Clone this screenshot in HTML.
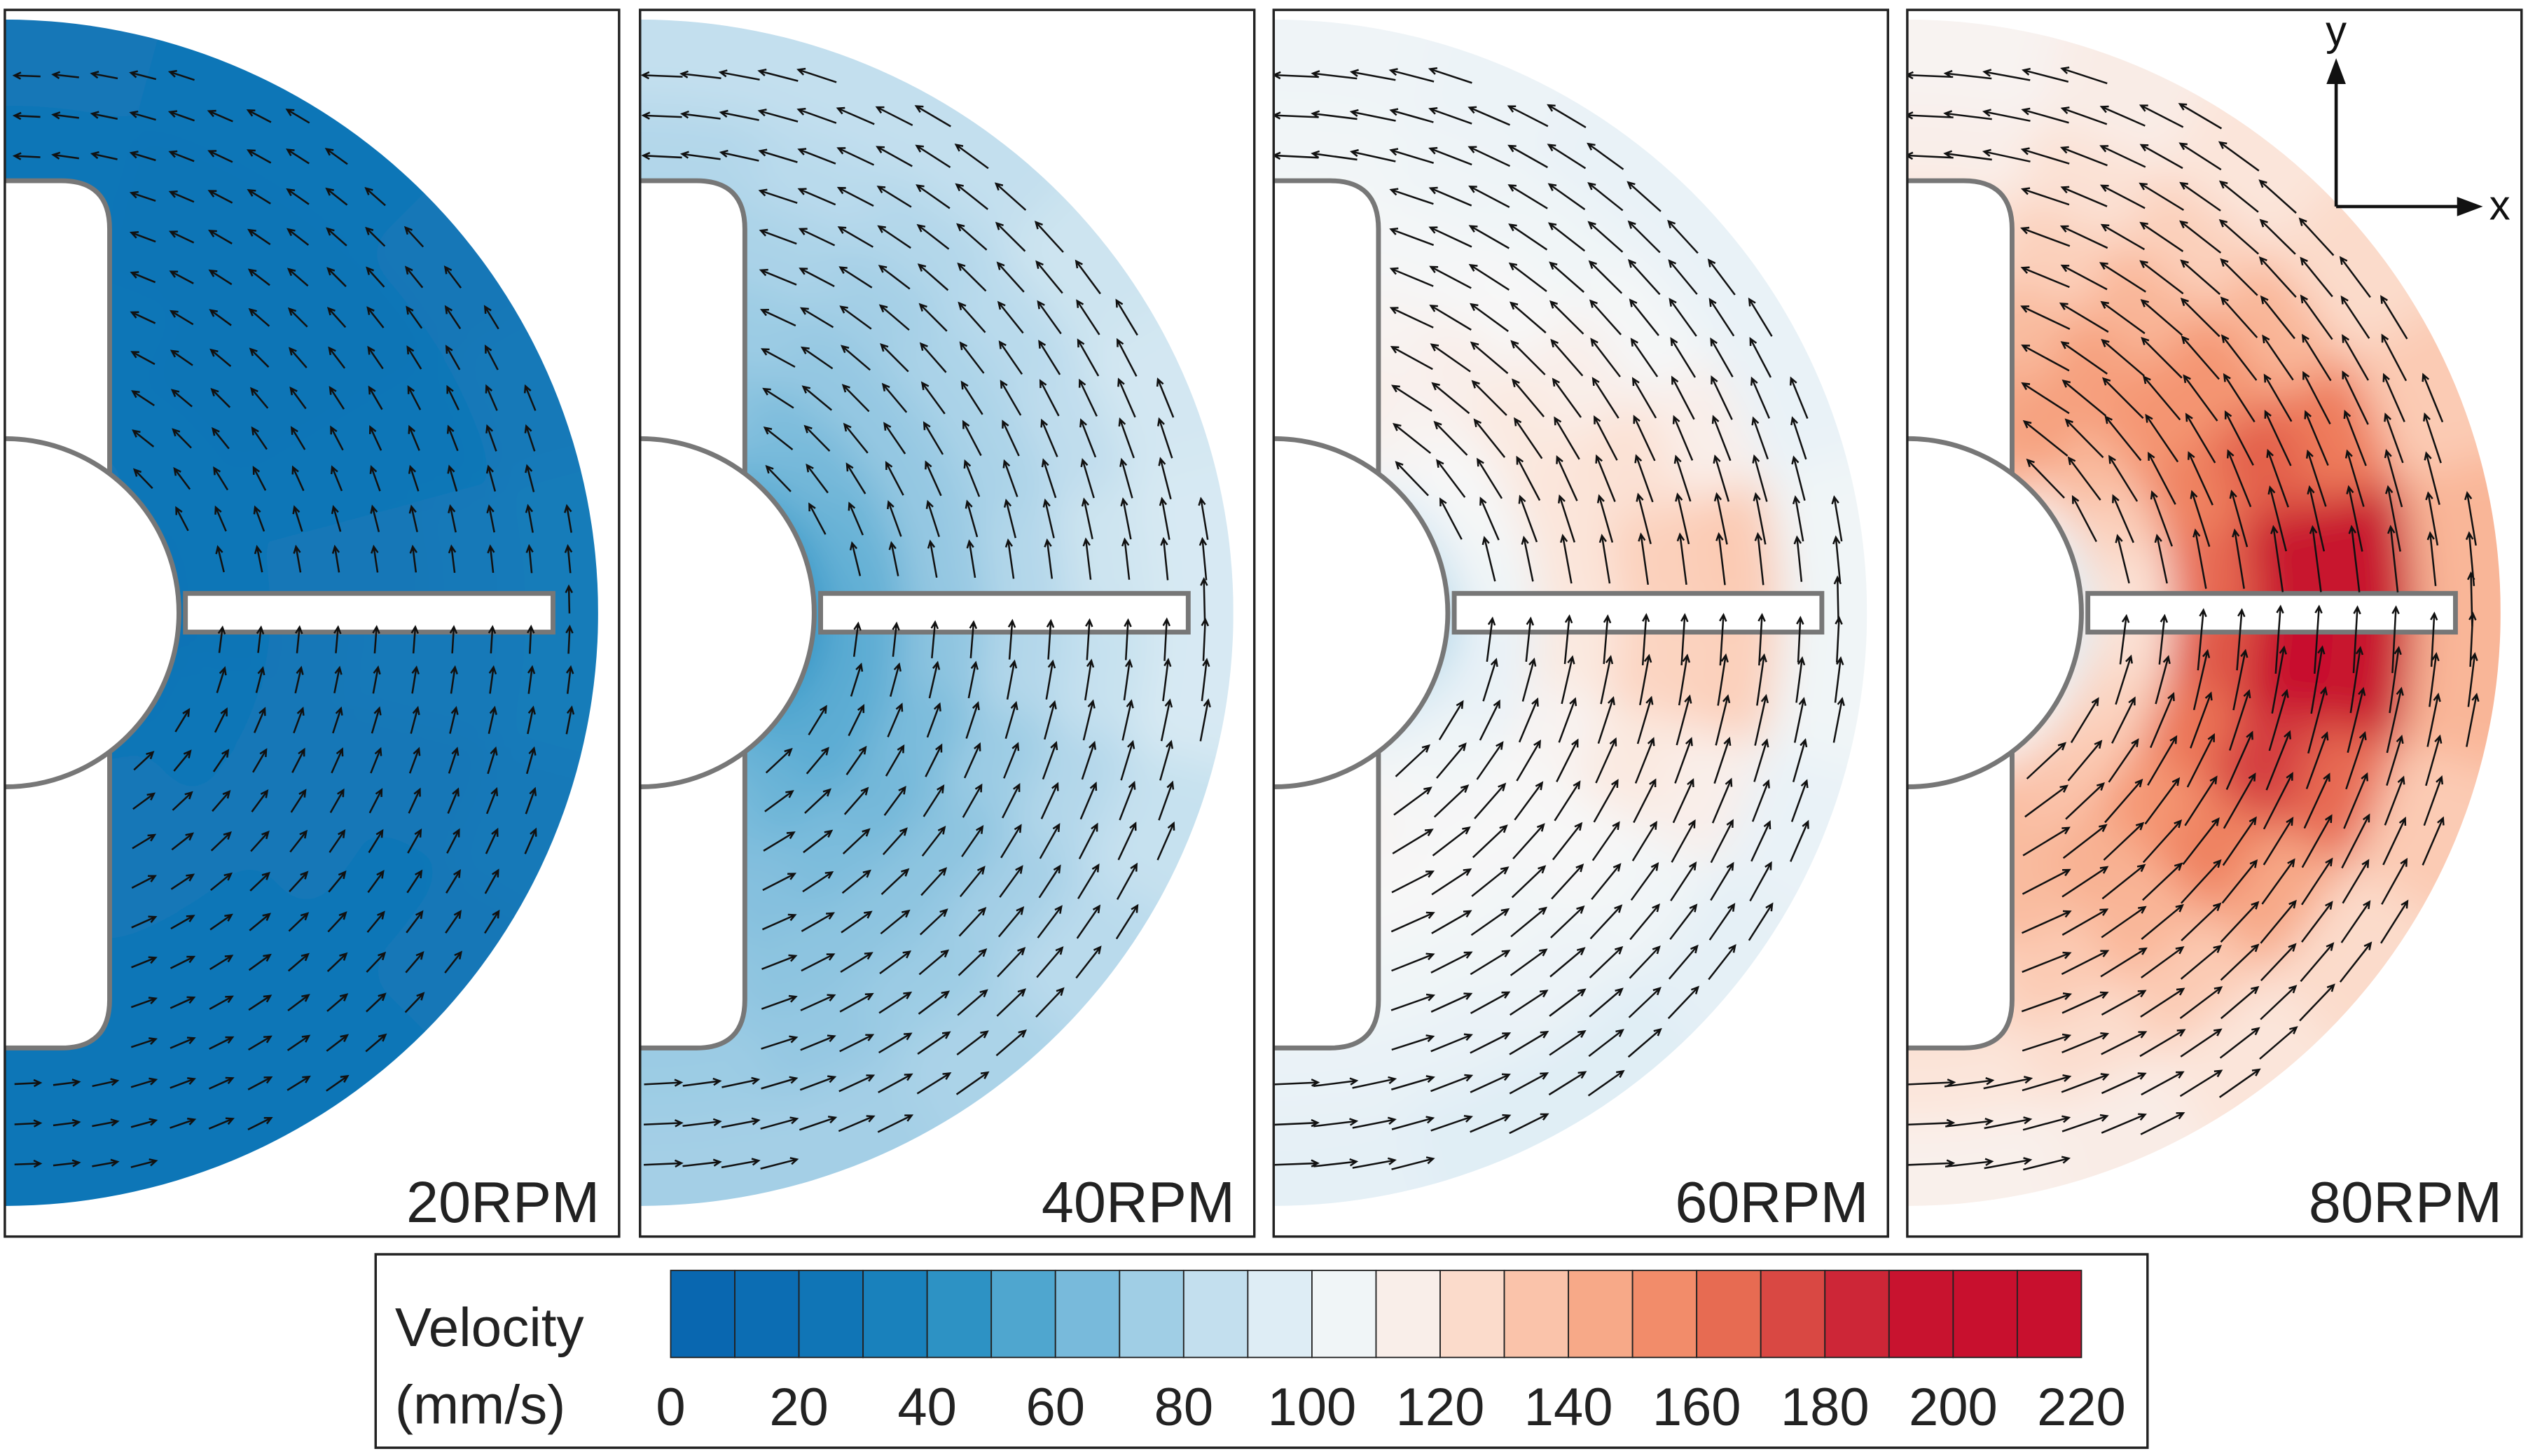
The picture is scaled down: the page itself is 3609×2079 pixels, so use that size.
<!DOCTYPE html>
<html><head><meta charset="utf-8"><style>
html,body{margin:0;padding:0;background:#fff}
svg{display:block;font-family:"Liberation Sans",sans-serif}
</style></head><body>
<svg id="fig" width="3609" height="2079" viewBox="0 0 1568 903" xmlns="http://www.w3.org/2000/svg">
<defs><filter id="bl" x="-20%" y="-10%" width="140%" height="120%"><feGaussianBlur stdDeviation="13"/></filter></defs>
<g id="panels"></g>
<g id="cbar">
<rect x="233" y="778" width="1099" height="120" fill="#fff" stroke="#222" stroke-width="1.5"/>
<text x="245" y="835" font-size="34" fill="#222">Velocity</text>
<text x="245" y="883" font-size="34" fill="#222">(mm/s)</text>
</g>
</svg>
<script>
const panelLabels=["20RPM","40RPM","60RPM","80RPM"];
const tickLabels=[0,20,40,60,80,100,120,140,160,180,200,220];
const speedP1=[[28,28,27,27,27,28],[28,27,27,26,26,27],[28,27,26,26,26,27],[27,27,26,26,26,28],[25,27,27,27,27,30],[24,27,28,28,30,32],[22,26,28,30,30,32],[24,27,28,28,28,30],[25,27,28,28,27,28],[27,28,28,27,27,27],[28,28,28,27,27,27],[28,28,27,27,27,27]];
const speedP2=[[70,72,75,78,80,85],[68,70,74,78,82,85],[60,66,72,76,80,85],[55,64,72,78,82,88],[50,62,72,78,84,90],[48,60,72,80,88,92],[45,58,70,80,86,92],[50,58,66,74,80,86],[55,58,64,70,76,82],[60,62,66,70,74,78],[66,66,68,70,72,76],[70,70,72,72,74,76]];
const speedP3=[[110,112,110,108,106,104],[112,115,112,108,104,102],[105,112,115,110,105,100],[95,110,118,115,108,100],[90,108,120,122,115,100],[85,105,120,130,132,105],[80,100,118,128,130,105],[88,100,112,118,115,100],[95,105,110,110,106,98],[100,108,110,106,102,96],[108,112,110,105,100,96],[112,112,110,105,100,98]];
const speedP4=[[135,135,128,122,115,112],[150,145,138,130,122,116],[138,148,148,140,130,120],[115,138,152,152,140,125],[100,130,158,168,160,132],[95,122,165,192,192,140],[95,122,170,198,192,140],[100,128,162,178,165,132],[105,132,152,158,145,125],[112,135,142,140,132,120],[125,138,138,132,124,116],[135,138,134,126,120,114]];
const speeds=[speedP1,speedP2,speedP3,speedP4];
const cmapVals=[0,10,20,30,40,50,60,70,80,90,100,110,120,130,140,150,160,170,180,190,200,220];
const cmapCols=["#0864ae","#0a6ab1","#0d70b4","#1379b8","#1f89bf","#3a9bc9","#63b0d5","#8dc4e0","#b3d7ea","#d3e7f2","#e9f2f7","#f7f7f7","#fbe5da","#fbd0bb","#f9b698","#f59b78","#ee7c5b","#e05a48","#d1363e","#c8162f","#c8102e","#c8102e"];
const NS="http://www.w3.org/2000/svg";
function hx(c){return [1,3,5].map(i=>parseInt(c.substr(i,2),16));}
function cmap(v){v=Math.max(0,Math.min(220,v));for(let i=0;i<cmapVals.length-1;i++){if(v<=cmapVals[i+1]){const t=(v-cmapVals[i])/(cmapVals[i+1]-cmapVals[i]);const a=hx(cmapCols[i]),b=hx(cmapCols[i+1]);return "rgb("+a.map((x,k)=>Math.round(x+(b[k]-x)*t)).join(",")+")";}}return cmapCols[cmapCols.length-1];}
function el(t,a,p){const e=document.createElementNS(NS,t);for(const k in a)e.setAttribute(k,a[k]);p.appendChild(e);return e;}
const rEdges=[0,115,165,215,265,315,372];
const pX=[3,397,790,1183],pW=381,pY=6,pH=761,cyC=380;
const root=document.getElementById('panels');
function lookup(data,th,r){let i=Math.floor((90-th)/15);i=Math.max(0,Math.min(11,i));let j=0;for(let k=0;k<6;k++)if(r>=rEdges[k])j=k;return data[i][j];}
speeds.forEach((data,p)=>{
 const x0=pX[p],cx=x0;
 const g=el('g',{},root);
 
 
 const cpEl=el('clipPath',{id:'cp'+p},g);
 el('path',{d:`M${cx} ${cyC-368}A368 368 0 0 1 ${cx} ${cyC+368}Z`},cpEl);
 const pcEl=el('clipPath',{id:'pc'+p},g);
 el('rect',{x:x0,y:pY,width:pW,height:pH},pcEl);
 const field=el('g',{'clip-path':'url(#cp'+p+')'},g);
 
 
 const fb=el('g',{filter:'url(#bl)'},field);
 const cellsG=el('g',{id:'cells'+p},fb);
 for(let i=0;i<12;i++)for(let j=0;j<6;j++){
  const t1=(90-15*i)*Math.PI/180,t2=(90-15*(i+1))*Math.PI/180,r1=rEdges[j],r2=rEdges[j+1]+(j==5?40:0);
  const pt=(r,t)=>[cx+r*Math.cos(t),cyC-r*Math.sin(t)];
  const a=pt(r1,t1),b=pt(r2,t1),c=pt(r2,t2),d=pt(r1,t2);
  const cell=el('path',{d:`M${a}L${b}A${r2} ${r2} 0 0 1 ${c}L${d}A${r1} ${r1} 0 0 0 ${a}Z`,fill:cmap(data[i][j]),stroke:cmap(data[i][j]),'stroke-width':1},cellsG);
  
  
 }
 el('use',{href:'#cells'+p,transform:`translate(${2*cx},0) scale(-1,1)`},fb);
 // geometry
 const geo=el('g',{fill:'#fff',stroke:'#777','stroke-width':3,'clip-path':'url(#pc'+p+')'},g);
 
 
 el('path',{d:`M${x0-8} 112H${x0+35}Q${x0+65} 112 ${x0+65} 142V620Q${x0+65} 650 ${x0+35} 650H${x0-8}Z`},geo);
 el('path',{d:`M${x0-8} ${cyC-108}H${x0}A108 108 0 0 1 ${x0} ${cyC+108}H${x0-8}Z`},geo);
 el('rect',{x:x0+112,y:368,width:228,height:24},geo);
 // arrows
 const ag=el('g',{stroke:'#111','stroke-width':1.1,fill:'none','clip-path':'url(#pc'+p+')'},g);
 
 
 for(let yy=22;yy<750;yy+=25)for(let xx=x0+14;xx<x0+365;xx+=24){
  const dx=xx-cx,dy=yy-cyC,r=Math.hypot(dx,dy);
  if(r>358||r<118)continue;
  if(xx<x0+72&&yy>105&&yy<655)continue;
  if(Math.abs(dy)<14&&xx<x0+345)continue;
  const th=Math.atan2(-dy,dx)*180/Math.PI;
  const s=lookup(data,th,r),L=12+s*0.15;
  const ux=dy/r,uy=-dx/r;
  const x1=xx-ux*L/2,y1=yy-uy*L/2,x2=xx+ux*L/2,y2=yy+uy*L/2;
  const h=4,px=-uy,py=ux;
  const ar=el('path',{d:`M${x1.toFixed(1)} ${y1.toFixed(1)}L${x2.toFixed(1)} ${y2.toFixed(1)}M${(x2-ux*h+px*h*0.5).toFixed(1)} ${(y2-uy*h+py*h*0.5).toFixed(1)}L${x2.toFixed(1)} ${y2.toFixed(1)}L${(x2-ux*h-px*h*0.5).toFixed(1)} ${(y2-uy*h-py*h*0.5).toFixed(1)}`},ag);
  
  
 }
 const fr=el('rect',{x:x0,y:pY,width:pW,height:pH,fill:'none',stroke:'#222','stroke-width':1.5},g);
 
 
 const lb=el('text',{x:x0+pW-12,y:758,'font-size':36,'text-anchor':'end',fill:'#222'},g);
 lb.textContent=panelLabels[p];
 
 
});
// axes inset
const ax=el('g',{stroke:'#111','stroke-width':2,fill:'#111'},root);


el('path',{d:'M1449 128V45M1449 128H1530',fill:'none'},ax);
el('path',{d:'M1449 36L1443 52L1455 52Z M1540 128L1524 122L1524 134Z',stroke:'none'},ax);
const ty=el('text',{x:1449,y:28,'font-size':26,'text-anchor':'middle',stroke:'none'},ax);ty.textContent='y';

const tx=el('text',{x:1544,y:136,'font-size':26,stroke:'none'},ax);tx.textContent='x';

// colorbar
const cb=document.getElementById('cbar');
const bx0=416,bx1=1291,segW=(bx1-bx0)/22;
function xs(v){return bx0+(v/220)*(bx1-bx0);}
for(let k=0;k<22;k++){
 const sg=el('rect',{x:xs(k*10),y:788,width:segW,height:54,fill:cmap(k*10+5),stroke:'#222','stroke-width':0.8},cb);
 
 
}
tickLabels.forEach(v=>{
 const t=el('text',{x:xs(v),y:884,'font-size':33,'text-anchor':'middle',fill:'#222'},cb);
 t.textContent=v;
 
 
});
</script>
</body></html>
